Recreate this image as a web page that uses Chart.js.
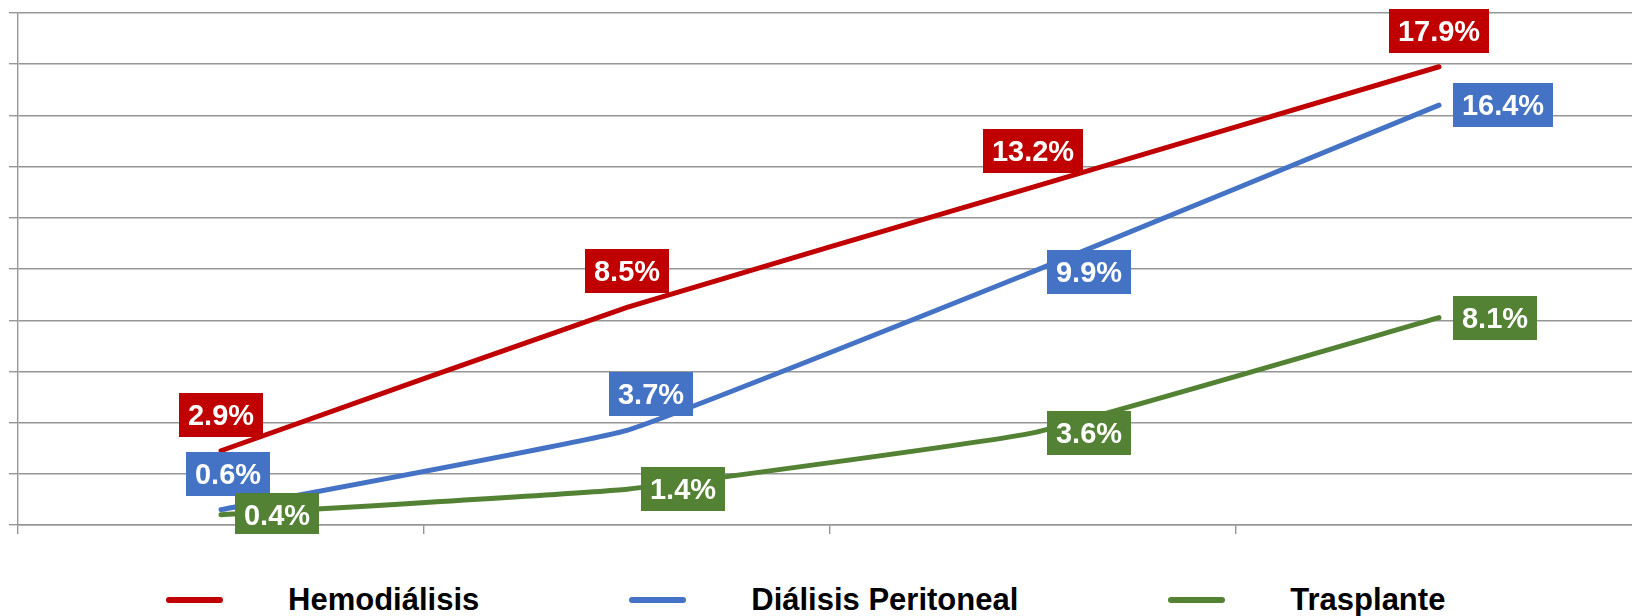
<!DOCTYPE html>
<html>
<head>
<meta charset="utf-8">
<script src="https://cdn.jsdelivr.net/npm/chart.js@4.4.1/dist/chart.umd.min.js"></script>
<style>
    html, body { margin: 0; padding: 0; background: #fff; overflow: hidden; width: 1632px; height: 616px; }
    #chartBox { position: absolute; left: 0; top: 0; width: 1642px; height: 534px; }
    #legend {
        position: absolute; left: 166px; top: 582px; display: flex; align-items: center;
        font: bold 31px "Liberation Sans", Arial, sans-serif; line-height: 36px; color: #000;
    }
    .item { display: flex; align-items: center; margin-right: 150px; white-space: nowrap; }
    .swatch { width: 57px; height: 6px; border-radius: 3px; margin-right: 65px; }
</style>
</head>
<body>
<div id="chartBox"><canvas id="trendChart"></canvas></div>
<div id="legend"></div>
<script>
// ---- data ----
const categories = ['1', '2', '3', '4'];
const seriesNames = ['Hemodiálisis', 'Diálisis Peritoneal', 'Trasplante'];
const hemodialisis = [2.9, 8.5, 13.2, 17.9];
const dialisisPeritoneal = [0.6, 3.7, 9.9, 16.4];
const trasplante = [0.4, 1.4, 3.6, 8.1];
const yMin = 0;
const yMax = 20;
const yStep = 2;

const colors = ['#C00000', '#4472C4', '#548235'];
const gridColor = '#969696';

// boxed value labels, drawn on top of the lines
const boxLabels = {
    id: 'boxLabels',
    afterDatasetsDraw(chart){
        const ctx = chart.ctx;
        ctx.save();
        ctx.font = 'bold 29px "Liberation Sans", Arial, sans-serif';
        ctx.textBaseline = 'middle';
        ctx.textAlign = 'center';

        chart.data.datasets.forEach((ds, i) => {
            const meta = chart.getDatasetMeta(i);
            meta.data.forEach((pt, j) => {
                const text = ds.data[j].toFixed(1) + '%';
                const w = Math.round(ctx.measureText(text).width + 18);
                const h = 44;
                const nudge = ds.labelNudge ? ds.labelNudge[j] : 0;
                let cx, cy;
                if (ds.labelPos[j] === 'above') {
                    cx = pt.x + nudge;
                    cy = pt.y - 14 - h / 2;
                } else {
                    cx = pt.x + 14 + w / 2;
                    cy = pt.y;
                }
                ctx.fillStyle = ds.borderColor;
                ctx.fillRect(Math.round(cx - w / 2), Math.round(cy - h / 2), w, h);
                ctx.fillStyle = '#fff';
                ctx.fillText(text, cx, cy + 2);
            });
        });
        ctx.restore();
    }
};

const seriesData = [hemodialisis, dialisisPeritoneal, trasplante];
const labelPos = [
    ['above', 'above', 'above', 'above'],
    ['above', 'above', 'right', 'right'],
    ['right', 'right', 'right', 'right']
];
const labelNudge = [
    [0, 0, 0, 0],
    [7, 24, 0, 0],
    [0, 0, 0, 0]
];

new Chart(document.getElementById('trendChart').getContext('2d'), {
    type: 'line',
    data: {
        labels: categories,
        datasets: seriesNames.map((name, i) => ({
            label: name,
            data: seriesData[i],
            borderColor: colors[i],
            backgroundColor: colors[i],
            borderWidth: 5,
            borderCapStyle: 'round',
            tension: 0.1,
            pointRadius: 0,
            labelPos: labelPos[i],
            labelNudge: labelNudge[i]
        }))
    },
    options: {
        responsive: true,
        maintainAspectRatio: false,
        animation: false,
        layout: { padding: { left: 9, top: 13, right: 0, bottom: 0 } },
        plugins: {
            legend: { display: false },
            tooltip: { enabled: false }
        },
        scales: {
            x: {
                offset: true,
                grid: { offset: true, drawOnChartArea: false, tickLength: 9, color: gridColor, lineWidth: 1.4 },
                border: { color: gridColor, width: 1.4 },
                ticks: { display: false }
            },
            y: {
                min: yMin,
                max: yMax,
                ticks: { stepSize: yStep, display: false },
                grid: { tickLength: 9, color: gridColor, lineWidth: 1.4 },
                border: { color: gridColor, width: 1.4 }
            }
        }
    },
    plugins: [boxLabels]
});

// html legend
const legendEl = document.getElementById('legend');
seriesNames.forEach((name, i) => {
    const item = document.createElement('div');
    item.className = 'item';
    item.innerHTML = `<span class="swatch" style="background:${colors[i]}"></span><span>${name}</span>`;
    legendEl.appendChild(item);
});
</script>
</body>
</html>
